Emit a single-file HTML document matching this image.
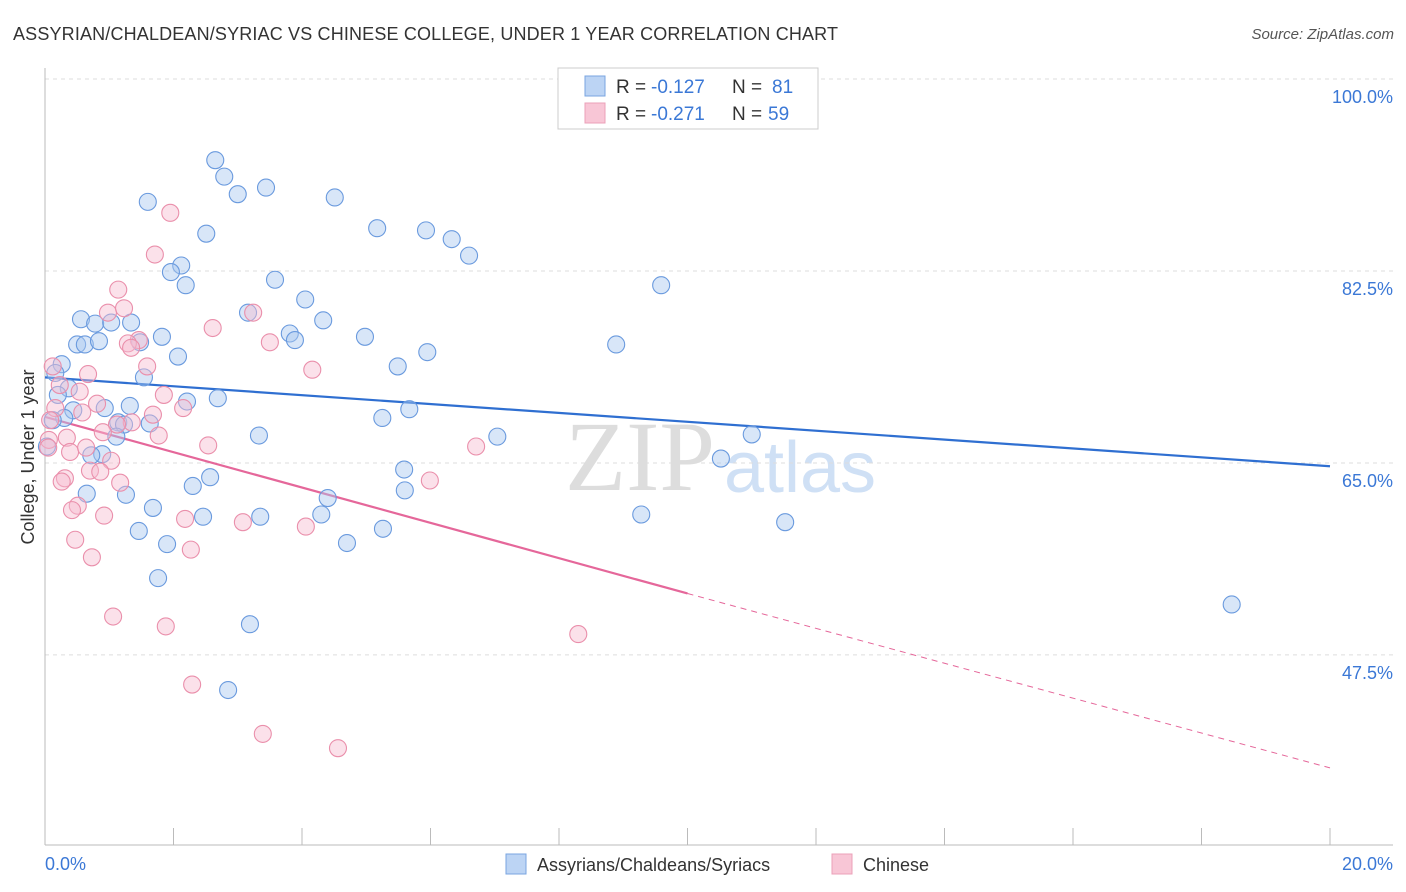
<!DOCTYPE html>
<html><head><meta charset="utf-8"><style>
body{margin:0;background:#fff;font-family:"Liberation Sans",sans-serif;}
#c{position:relative;width:1406px;height:892px;overflow:hidden;}
</style></head><body>
<div id="c">
<svg id="s" width="1406" height="892" xmlns="http://www.w3.org/2000/svg">
<text x="13" y="40" font-size="18" fill="#333" textLength="825">ASSYRIAN/CHALDEAN/SYRIAC VS CHINESE COLLEGE, UNDER 1 YEAR CORRELATION CHART</text>
<text x="1394" y="39" font-size="15" fill="#555" text-anchor="end" font-style="italic">Source: ZipAtlas.com</text>
<text x="640" y="490" font-size="100" fill="#ddd" font-family="Liberation Serif" text-anchor="middle">ZIP</text>
<text x="800" y="492" font-size="72" fill="#cfe0f5" text-anchor="middle">atlas</text>
<g id="grid"></g><g id="axes"></g><g id="lines"></g><g id="pts"></g>
<text transform="translate(34,457) rotate(-90)" font-size="18" fill="#333" text-anchor="middle">College, Under 1 year</text>
<text x="45" y="870" font-size="18" fill="#3b78d6">0.0%</text>
<text x="1393" y="870" font-size="18" fill="#3b78d6" text-anchor="end">20.0%</text>
<g>
<rect x="558" y="68" width="260" height="61" fill="#fff" stroke="#ccc"/>
<rect x="585" y="76" width="20" height="20" fill="#bcd4f4" stroke="#7aa5e0"/>
<rect x="585" y="103" width="20" height="20" fill="#f8c6d6" stroke="#eba0b8"/>
<text x="616" y="93" font-size="19" fill="#333">R =</text>
<text x="651" y="93" font-size="19" fill="#3b78d6">-0.127</text>
<text x="732" y="93" font-size="19" fill="#333">N =</text>
<text x="772" y="93" font-size="19" fill="#3b78d6">81</text>
<text x="616" y="120" font-size="19" fill="#333">R =</text>
<text x="651" y="120" font-size="19" fill="#3b78d6">-0.271</text>
<text x="732" y="120" font-size="19" fill="#333">N =</text>
<text x="768" y="120" font-size="19" fill="#3b78d6">59</text>
</g>
<g>
<rect x="506" y="854" width="20" height="20" fill="#bcd4f4" stroke="#7aa5e0"/>
<text x="537" y="871" font-size="18" fill="#333">Assyrians/Chaldeans/Syriacs</text>
<rect x="832" y="854" width="20" height="20" fill="#f8c6d6" stroke="#eba0b8"/>
<text x="863" y="871" font-size="18" fill="#333">Chinese</text>
</g>
</svg>
</div>
<script>
const yTicks=[100,82.5,65,47.5];
const yTickLabels=["100.0%","82.5%","65.0%","47.5%"];
const xTicks=[0,2,4,6,8,10,12,14,16,18,20];
const blueX=[2.65,2.79,3.00,3.44,4.51,1.60,5.17,5.93,6.33,6.60,2.51,2.12,1.96,2.19,3.58,4.05,9.59,3.16,0.56,0.78,1.03,1.34,1.82,1.48,0.50,0.62,0.84,3.81,3.89,4.33,4.98,5.95,5.49,8.89,2.07,0.26,0.16,1.54,0.37,0.20,2.21,2.69,1.32,0.93,0.44,0.30,5.67,5.25,0.12,1.14,1.23,1.63,1.11,3.33,7.04,11.00,0.89,0.72,10.52,5.59,2.57,2.30,5.60,0.65,1.26,4.40,1.68,4.30,9.28,2.46,3.35,11.52,1.46,5.26,1.90,4.70,1.76,3.19,18.47,2.85,0.03];
const blueY=[92.6,91.1,89.5,90.1,89.2,88.8,86.4,86.2,85.4,83.9,85.9,83.0,82.4,81.2,81.7,79.9,81.2,78.7,78.1,77.7,77.8,77.8,76.5,76.0,75.8,75.8,76.1,76.8,76.2,78.0,76.5,75.1,73.8,75.8,74.7,74.0,73.2,72.8,71.8,71.2,70.6,70.9,70.2,70.0,69.8,69.1,69.9,69.1,68.9,68.7,68.5,68.6,67.4,67.5,67.4,67.6,65.8,65.7,65.4,64.4,63.7,62.9,62.5,62.2,62.1,61.8,60.9,60.3,60.3,60.1,60.1,59.6,58.8,59.0,57.6,57.7,54.5,50.3,52.1,44.3,66.5];
const pinkX=[1.95,1.71,1.14,0.98,1.23,3.24,2.61,1.46,1.29,1.34,3.50,0.12,1.59,4.16,0.67,0.23,1.85,0.81,0.16,2.15,1.68,0.58,1.35,1.12,0.90,1.77,0.34,2.54,0.06,6.71,0.39,0.64,1.03,0.70,0.86,1.17,0.31,0.26,5.99,0.51,0.42,0.92,2.18,3.08,4.06,0.47,2.27,0.73,1.06,1.88,8.30,2.29,3.39,4.56,0.05,0.08,0.54];
const pinkY=[87.8,84.0,80.8,78.7,79.1,78.7,77.3,76.2,75.9,75.5,76.0,73.8,73.8,73.5,73.1,72.1,71.2,70.4,70.0,70.0,69.4,69.6,68.7,68.5,67.8,67.5,67.3,66.6,67.1,66.5,66.0,66.4,65.2,64.3,64.2,63.2,63.6,63.3,63.4,61.1,60.7,60.2,59.9,59.6,59.2,58.0,57.1,56.4,51.0,50.1,49.4,44.8,40.3,39.0,66.4,68.9,71.5];
const blueTrend=[72.8,64.7];
const pinkTrend=[69.2,53.1,37.2];
const X=v=>45+v*64.25, Y=v=>79+(100-v)*10.97;
const NS="http://www.w3.org/2000/svg";
function mk(tag,at,parent){const e=document.createElementNS(NS,tag);for(const k in at)e.setAttribute(k,at[k]);document.getElementById(parent).appendChild(e);return e;}
yTicks.forEach((t,i)=>{
 const l=mk('line',{x1:45,x2:1393,y1:Y(t),y2:Y(t),stroke:'#ddd','stroke-dasharray':'4,4'},'grid');
 
 
 const tx=mk('text',{x:1393,y:Y(t)+24,'font-size':18,fill:'#3b78d6','text-anchor':'end'},'grid');
 tx.textContent=yTickLabels[i];
 
 
});
let a=mk('line',{x1:45,x2:45,y1:68,y2:845,stroke:'#bbb'},'axes');


a=mk('line',{x1:45,x2:1393,y1:845,y2:845,stroke:'#bbb'},'axes');


xTicks.forEach(t=>{const k=mk('line',{x1:X(t),x2:X(t),y1:828,y2:845,stroke:'#bbb'},'axes');
 
 });
function dots(xs,ys,fill,stroke,name){xs.forEach((x,i)=>{const c=mk('circle',{cx:X(x),cy:Y(ys[i]),r:8.5,fill:fill,'fill-opacity':0.45,stroke:stroke,'stroke-width':1.1},'pts');
 
 });}
dots(blueX,blueY,'#a9c8f0','#6a9ade','point-assyrian');
dots(pinkX,pinkY,'#f7bcd0','#ea8fab','point-chinese');
let ln=mk('line',{x1:X(0),y1:Y(blueTrend[0]),x2:X(20),y2:Y(blueTrend[1]),stroke:'#2f6fd1','stroke-width':2.2},'lines');


ln=mk('line',{x1:X(0),y1:Y(pinkTrend[0]),x2:X(10),y2:Y(pinkTrend[1]),stroke:'#e5679a','stroke-width':2.2},'lines');


ln=mk('line',{x1:X(10),y1:Y(pinkTrend[1]),x2:X(20),y2:Y(pinkTrend[2]),stroke:'#e5679a','stroke-width':1,'stroke-dasharray':'6,5'},'lines');


</script>
</body></html>
